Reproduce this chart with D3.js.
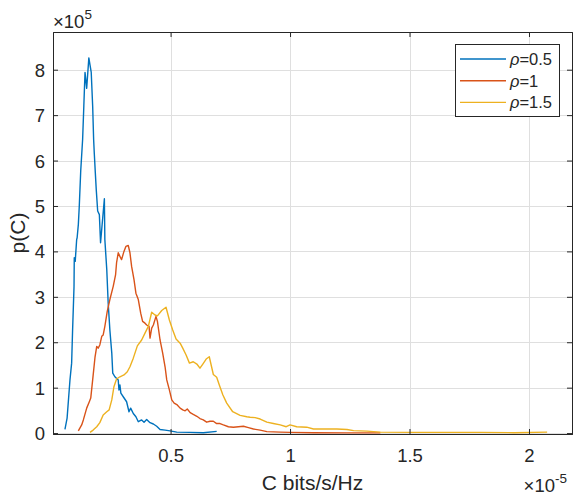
<!DOCTYPE html>
<html>
<head>
<meta charset="utf-8">
<script src="https://cdnjs.cloudflare.com/ajax/libs/d3/7.8.5/d3.min.js"></script>
<style>
  body { margin: 0; background: #fff; }
  svg { display: block; }
  text { font-family: "Liberation Sans", Arial, Helvetica, sans-serif; fill: #262626; }
</style>
</head>
<body>
<div id="chart"></div>
<script>
// C is in units of 1e-5 bits/s/Hz, p(C) in units of 1e5
const rho05C = [0.058, 0.067, 0.079, 0.086, 0.090, 0.096, 0.097, 0.101, 0.107, 0.109, 0.114, 0.118, 0.124, 0.132,
  0.137, 0.142, 0.149, 0.158, 0.168, 0.174, 0.178, 0.181, 0.185, 0.189, 0.195, 0.202, 0.207, 0.223, 0.225, 0.233,
  0.239, 0.246, 0.254, 0.258, 0.267, 0.281, 0.284, 0.288, 0.292, 0.302, 0.316, 0.326, 0.333, 0.344, 0.355, 0.365,
  0.379, 0.389, 0.400, 0.414, 0.428, 0.442, 0.456, 0.477, 0.498, 0.526, 0.581, 0.637, 0.693];
const rho05P = [0.08, 0.33, 1.17, 1.54, 2.27, 3.23, 3.86, 3.78, 4.26, 4.30, 4.59, 5.00, 5.77, 6.47,
  7.20, 7.94, 7.59, 8.26, 7.94, 7.20, 6.47, 6.14, 5.74, 5.36, 4.89, 4.81, 4.19, 5.16, 4.26, 3.60,
  2.86, 2.27, 1.76, 1.32, 1.24, 1.17, 0.95, 1.06, 0.88, 0.80, 0.69, 0.47, 0.55, 0.43, 0.36, 0.25,
  0.29, 0.24, 0.30, 0.23, 0.20, 0.15, 0.08, 0.066, 0.05, 0.022, 0.015, 0.007, 0.038];

const rho1C = [0.114, 0.128, 0.135, 0.149, 0.160, 0.166, 0.174, 0.184, 0.191, 0.197, 0.204, 0.212, 0.218, 0.225,
  0.235, 0.246, 0.260, 0.270, 0.274, 0.281, 0.288, 0.295, 0.305, 0.313, 0.323, 0.330, 0.337, 0.347, 0.355, 0.365,
  0.375, 0.383, 0.393, 0.400, 0.410, 0.414, 0.421, 0.428, 0.439, 0.445, 0.456, 0.467, 0.477, 0.484, 0.495, 0.505,
  0.515, 0.528, 0.540, 0.551, 0.561, 0.570, 0.582, 0.595, 0.610, 0.623, 0.637, 0.651, 0.665, 0.679, 0.693, 0.707,
  0.721, 0.742, 0.763, 0.784, 0.805, 0.826, 0.847, 0.875, 0.903, 0.959, 1.000, 1.098, 1.238, 1.378];
const rho1P = [0.05, 0.18, 0.29, 0.55, 0.69, 0.77, 1.17, 1.68, 1.91, 1.87, 1.94, 2.13, 2.16, 2.35,
  2.68, 2.94, 3.23, 3.49, 3.75, 3.97, 3.89, 3.82, 4.00, 4.11, 4.13, 3.97, 3.67, 3.38, 3.08, 2.94,
  2.64, 2.46, 2.42, 2.38, 2.35, 2.09, 2.31, 2.38, 2.57, 2.46, 2.05, 1.76, 1.46, 1.17, 0.95, 0.73,
  0.66, 0.62, 0.55, 0.51, 0.49, 0.53, 0.45, 0.41, 0.37, 0.32, 0.29, 0.24, 0.26, 0.26, 0.21, 0.21,
  0.18, 0.14, 0.13, 0.14, 0.15, 0.12, 0.09, 0.066, 0.033, 0.022, 0.015, 0.007, 0.005, 0.005];

const rho15C = [0.163, 0.176, 0.191, 0.204, 0.218, 0.233, 0.243, 0.254, 0.263, 0.274, 0.288, 0.305, 0.319, 0.330,
  0.344, 0.361, 0.379, 0.393, 0.407, 0.421, 0.435, 0.445, 0.463, 0.481, 0.495, 0.509, 0.523, 0.540, 0.551, 0.565,
  0.579, 0.595, 0.610, 0.623, 0.635, 0.649, 0.662, 0.679, 0.693, 0.704, 0.719, 0.735, 0.760, 0.791, 0.819, 0.833,
  0.854, 0.875, 0.903, 0.930, 0.959, 0.984, 1.000, 1.028, 1.070, 1.098, 1.140, 1.196, 1.238, 1.266, 1.322, 1.378,
  1.517, 1.657, 1.797, 1.936, 2.076];
const rho15P = [0.015, 0.066, 0.14, 0.23, 0.40, 0.47, 0.51, 0.73, 1.02, 1.19, 1.24, 1.28, 1.35, 1.46,
  1.65, 1.92, 2.05, 2.20, 2.35, 2.66, 2.60, 2.58, 2.70, 2.77, 2.49, 2.27, 2.07, 1.98, 1.87, 1.72,
  1.54, 1.57, 1.52, 1.43, 1.52, 1.63, 1.68, 1.29, 1.23, 1.06, 0.84, 0.66, 0.47, 0.39, 0.36, 0.35,
  0.34, 0.31, 0.24, 0.21, 0.18, 0.14, 0.18, 0.14, 0.13, 0.09, 0.09, 0.09, 0.08, 0.055, 0.044, 0.022,
  0.015, 0.015, 0.015, 0.009, 0.022];

const seriesLabels = ["0.5", "1", "1.5"];
const seriesColors = ["#0072bd", "#d95319", "#edb120"];
const xTicks = [0.5, 1, 1.5, 2];
const yTicks = [0, 1, 2, 3, 4, 5, 6, 7, 8];

const series = [
  { label: seriesLabels[0], color: seriesColors[0], pts: rho05C.map((c, i) => [c, rho05P[i]]) },
  { label: seriesLabels[1], color: seriesColors[1], pts: rho1C.map((c, i) => [c, rho1P[i]]) },
  { label: seriesLabels[2], color: seriesColors[2], pts: rho15C.map((c, i) => [c, rho15P[i]]) }
];

const width = 574, height = 495;
const margin = { top: 32, right: 2, bottom: 61, left: 53 };
const iw = width - margin.left - margin.right;
const ih = height - margin.top - margin.bottom;

const svg = d3.select("#chart").append("svg")
  .attr("width", width).attr("height", height);
svg.append("rect").attr("width", width).attr("height", height).attr("fill", "#fff");

const x = d3.scaleLinear().domain([0.008, 2.18]).range([0, iw]);
const y = d3.scaleLinear().domain([-0.02, 8.83]).range([ih, 0]);

const g = svg.append("g").attr("transform", `translate(${margin.left},${margin.top})`);

g.append("clipPath").attr("id", "clip")
  .append("rect").attr("width", iw).attr("height", ih);

// grid
const grid = g.append("g").attr("stroke", "#dfdfdf").attr("stroke-width", 1);
grid.selectAll(".gx").data(xTicks).join("line")
  .attr("x1", d => Math.round(x(d)) + 0.5).attr("x2", d => Math.round(x(d)) + 0.5)
  .attr("y1", 0).attr("y2", ih);
grid.selectAll(".gy").data(yTicks).join("line")
  .attr("y1", d => Math.round(y(d)) + 0.5).attr("y2", d => Math.round(y(d)) + 0.5)
  .attr("x1", 0).attr("x2", iw);

// lines
const line = d3.line().x(d => x(d[0])).y(d => y(d[1]));
g.append("g").attr("clip-path", "url(#clip)")
  .selectAll("path").data(series).join("path")
  .attr("d", d => line(d.pts))
  .attr("fill", "none")
  .attr("stroke", d => d.color)
  .attr("stroke-width", 1.4)
  .attr("stroke-linejoin", "round");

// axes (box with inward ticks on all sides)
const tickLen = 5;
const xAxis = d3.axisBottom(x).tickValues(xTicks).tickSize(-tickLen).tickPadding(15).tickFormat(d3.format("~g"));
const yAxis = d3.axisLeft(y).tickValues(yTicks).tickSize(-tickLen).tickPadding(8).tickFormat(d3.format("d"));

const xa = g.append("g").attr("transform", `translate(0,${ih})`).call(xAxis);
const ya = g.append("g").call(yAxis);
g.append("g").call(d3.axisTop(x).tickValues(xTicks).tickSize(-tickLen).tickFormat(""));
g.append("g").attr("transform", `translate(${iw},0)`).call(d3.axisRight(y).tickValues(yTicks).tickSize(-tickLen).tickFormat(""));

g.selectAll(".domain").attr("stroke", "#262626");
g.selectAll(".tick line").attr("stroke", "#262626");
g.selectAll(".tick text").attr("font-size", 18.5).attr("fill", "#262626")
  .attr("font-family", "'Liberation Sans', Arial, sans-serif");
ya.selectAll(".tick text").attr("dy", "0.35em");

// axis labels
svg.append("text")
  .attr("x", margin.left + iw / 2).attr("y", 490)
  .attr("text-anchor", "middle").attr("font-size", 21)
  .text("C bits/s/Hz");

svg.append("text")
  .attr("transform", `translate(25,${margin.top + ih / 2}) rotate(-90)`)
  .attr("text-anchor", "middle").attr("font-size", 21)
  .text("p(C)");

// exponent labels
const ey = svg.append("text").attr("x", 53).attr("y", 28).attr("font-size", 18.5);
ey.append("tspan").text("\u00d710");
ey.append("tspan").attr("dy", -9).attr("font-size", 13.5).text("5");

const ex = svg.append("text").attr("x", 567).attr("y", 492).attr("font-size", 18.5).attr("text-anchor", "end");
ex.append("tspan").text("\u00d710");
ex.append("tspan").attr("dy", -9).attr("font-size", 13.5).text("-5");

// legend
const lg = svg.append("g").attr("transform", "translate(455,44)");
lg.append("rect").attr("x", 0.5).attr("y", 0.5).attr("width", 104).attr("height", 72)
  .attr("fill", "#fff").attr("stroke", "#262626").attr("stroke-width", 1);
const items = lg.selectAll(".item").data(series).join("g")
  .attr("transform", (d, i) => `translate(0,${15 + i * 21.7})`);
items.append("line").attr("x1", 5).attr("x2", 51).attr("y1", 0).attr("y2", 0)
  .attr("stroke", d => d.color).attr("stroke-width", 1.4);
const lt = items.append("text").attr("x", 55).attr("y", 6).attr("font-size", 16.5);
lt.append("tspan").attr("font-style", "italic").text("\u03c1");
lt.append("tspan").text(d => "=" + d.label);
</script>
</body>
</html>
